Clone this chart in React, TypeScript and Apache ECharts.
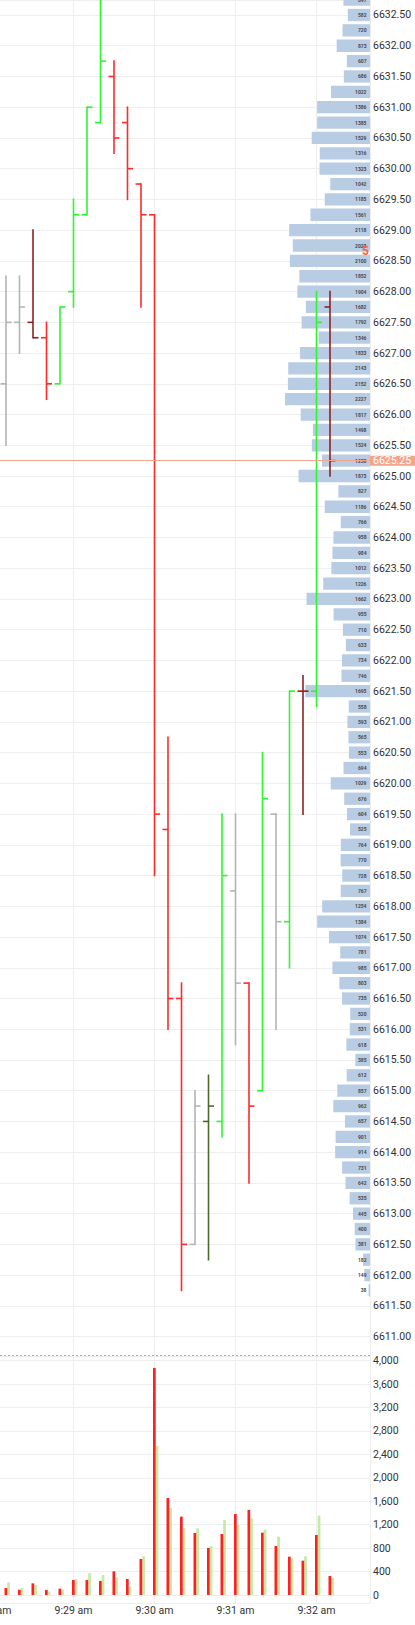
import React, { useEffect, useRef } from "react";
import * as echarts from "echarts";

// ---- OHLC bars (10-second bars, seconds after 9:28:00) ----
const barTimes = [10, 20, 30, 40, 50, 60, 70, 80, 90, 100, 110, 120, 130, 140, 150, 160, 170, 180, 190, 200, 210, 220, 230, 240, 250];
const opens = [6626.5, 6627.5, 6627.5, 6627.25, 6626.5, 6628.0, 6629.25, 6630.75, 6631.5, 6630.75, 6629.75, 6629.25, 6619.25, 6616.5, 6612.5, 6614.5, 6614.5, 6618.25, 6616.75, 6615.0, 6619.5, 6617.75, 6621.5, 6621.5, 6627.75];
const highs = [6628.25, 6628.25, 6629.0, 6627.5, 6627.75, 6629.5, 6631.0, 6633.25, 6631.75, 6631.0, 6629.75, 6629.25, 6620.75, 6616.75, 6615.0, 6615.25, 6619.5, 6619.5, 6616.75, 6620.5, 6619.5, 6621.5, 6621.75, 6628.0, 6628.0];
const lows = [6625.5, 6627.0, 6627.25, 6626.25, 6626.5, 6627.75, 6629.25, 6630.75, 6630.25, 6629.5, 6627.75, 6618.5, 6616.0, 6611.75, 6612.5, 6612.25, 6614.25, 6615.75, 6613.5, 6615.0, 6616.0, 6617.0, 6619.5, 6621.25, 6625.0];
const closes = [6627.5, 6627.75, 6627.25, 6626.5, 6627.75, 6629.25, 6631.0, 6631.75, 6630.5, 6630.0, 6629.25, 6619.5, 6616.5, 6612.5, 6614.75, 6614.75, 6618.5, 6616.75, 6614.75, 6619.75, 6617.75, 6621.5, 6621.5, 6627.5, 6625.25];
const barKinds = ["flat", "flat", "darkdown", "down", "up", "up", "up", "up", "down", "down", "down", "down", "down", "down", "flat", "darkup", "up", "flat", "down", "up", "flat", "up", "darkdown", "up", "darkdown"];

// ---- volume per bar ----
const sellVolume = [119, 91, 199, 85, 108, 256, 256, 239, 404, 273, 614, 3875, 1656, 1337, 1058, 802, 1041, 1383, 1451, 1064, 836, 654, 586, 1024, 324];
const buyVolume = [216, 119, 171, 57, 91, 273, 376, 341, 302, 142, 660, 2543, 1485, 1144, 1138, 836, 1280, 1195, 1309, 1115, 996, 632, 660, 1354, 290];

// ---- volume profile ----
const profilePrices = [
  6632.75, 6632.5, 6632.25, 6632.0, 6631.75, 6631.5, 6631.25, 6631.0, 6630.75, 6630.5, 6630.25, 6630.0,
  6629.75, 6629.5, 6629.25, 6629.0, 6628.75, 6628.5, 6628.25, 6628.0, 6627.75, 6627.5, 6627.25, 6627.0,
  6626.75, 6626.5, 6626.25, 6626.0, 6625.75, 6625.5, 6625.25, 6625.0, 6624.75, 6624.5, 6624.25, 6624.0,
  6623.75, 6623.5, 6623.25, 6623.0, 6622.75, 6622.5, 6622.25, 6622.0, 6621.75, 6621.5, 6621.25, 6621.0,
  6620.75, 6620.5, 6620.25, 6620.0, 6619.75, 6619.5, 6619.25, 6619.0, 6618.75, 6618.5, 6618.25, 6618.0,
  6617.75, 6617.5, 6617.25, 6617.0, 6616.75, 6616.5, 6616.25, 6616.0, 6615.75, 6615.5, 6615.25, 6615.0,
  6614.75, 6614.5, 6614.25, 6614.0, 6613.75, 6613.5, 6613.25, 6613.0, 6612.75, 6612.5, 6612.25, 6612.0,
  6611.75,
];
const profileVolumes = [
  697, 582, 720, 873, 607, 686, 1022, 1386, 1385, 1529, 1316, 1323,
  1042, 1185, 1561, 2118, 2023, 2100, 1852, 1904, 1682, 1792, 1346, 1833,
  2143, 2152, 2227, 1817, 1498, 1524, 1258, 1873, 827, 1186, 766, 958,
  984, 1012, 1226, 1662, 955, 710, 633, 734, 746, 1695, 558, 593,
  565, 553, 694, 1029, 676, 604, 525, 764, 770, 728, 767, 1254,
  1384, 1074, 781, 985, 803, 735, 520, 531, 618, 385, 612, 857,
  962, 657, 901, 914, 731, 642, 535, 445, 400, 381, 182, 149,
  38,
];

const lastPrice = 6625.25;
const countdownText = "5";

const kindColors: Record<string, string> = {
  up: "#2ef52e",
  down: "#ff2a2a",
  flat: "#b3b3b3",
  darkdown: "#8e2222",
  darkup: "#4b6a2c",
};

const FONT = "Roboto";
const GRID_COLOR = "#eeeeee";

function timeLabel(v: number) {
  const m = 28 + Math.round(v / 60);
  return "9:" + String(m).padStart(2, "0") + " am";
}

export default function App() {
  const ref = useRef<HTMLDivElement>(null);

  useEffect(() => {
    if (!ref.current) return;
    const chart = echarts.init(ref.current, null, { renderer: "svg" });

    const option: any = {
      animation: false,
      textStyle: { fontFamily: FONT },
      grid: [
        { left: -7.5, right: 45, top: 0, height: 1356, containLabel: false, outerBoundsMode: "none" },
        { left: -7.5, right: 45, top: 1356, height: 247.3, containLabel: false, outerBoundsMode: "none" },
      ],
      xAxis: [
        {
          gridIndex: 0,
          type: "value",
          min: 0,
          max: 279.63,
          interval: 60,
          axisLine: { show: false },
          axisTick: { show: false },
          axisLabel: { show: false },
          splitLine: { show: true, lineStyle: { color: GRID_COLOR, width: 1 } },
        },
        {
          gridIndex: 0,
          type: "value",
          min: 0,
          max: 9893,
          inverse: true,
          show: false,
          splitLine: { show: false },
        },
        {
          gridIndex: 1,
          type: "value",
          min: 0,
          max: 279.63,
          interval: 60,
          axisLine: { show: false },
          axisTick: { show: false },
          axisLabel: {
            formatter: (v: number) => timeLabel(v),
            color: "#333",
            fontSize: 10.5,
            fontFamily: FONT,
            margin: 2,
            showMinLabel: true,
            showMaxLabel: false,
          },
          splitLine: { show: true, lineStyle: { color: GRID_COLOR, width: 1 } },
        },
      ],
      yAxis: [
        {
          gridIndex: 0,
          type: "value",
          position: "right",
          min: 6610.684,
          max: 6632.744,
          minInterval: 0.5,
          maxInterval: 0.5,
          axisLine: { show: false },
          axisTick: { show: false },
          axisLabel: {
            formatter: (v: number) => v.toFixed(2),
            color: "#333",
            fontSize: 10.5,
            fontFamily: FONT,
            margin: 3,
            showMinLabel: false,
            showMaxLabel: false,
          },
          splitLine: { show: true, lineStyle: { color: GRID_COLOR, width: 1 } },
        },
        {
          gridIndex: 1,
          type: "value",
          position: "right",
          min: -141.6,
          max: 4078.5,
          minInterval: 400,
          maxInterval: 400,
          axisLine: { show: false },
          axisTick: { show: false },
          axisLabel: {
            formatter: (v: number) => Math.round(v).toLocaleString("en-US"),
            color: "#333",
            fontSize: 10.5,
            fontFamily: FONT,
            margin: 3,
            showMinLabel: false,
            showMaxLabel: false,
          },
          splitLine: { show: true, lineStyle: { color: GRID_COLOR, width: 1 } },
        },
      ],
      series: [
        {
          name: "profile",
          type: "custom",
          xAxisIndex: 1,
          yAxisIndex: 0,
          z: 1,
          silent: true,
          encode: { x: 0, y: 1 },
          data: profilePrices.map((p, i) => [profileVolumes[i], p]),
          renderItem: (params: any, api: any) => {
            const v = api.value(0);
            const p = api.value(1);
            const right = api.coord([0, p]);
            const left = api.coord([v, p]);
            const h = api.size([0, 0.25])[1] * 0.8;
            return {
              type: "group",
              children: [
                {
                  type: "rect",
                  shape: { x: left[0], y: right[1] - h / 2, width: right[0] - left[0], height: h },
                  style: { fill: "#b8cce4" },
                },
                {
                  type: "text",
                  x: right[0] - 3.5,
                  y: right[1],
                  style: {
                    text: String(v),
                    fill: "#4a4a4a",
                    fontSize: 5,
                    fontWeight: "bold",
                    fontFamily: FONT,
                    align: "right",
                    verticalAlign: "middle",
                  },
                },
              ],
            };
          },
        },
        {
          name: "ohlc",
          type: "custom",
          xAxisIndex: 0,
          yAxisIndex: 0,
          z: 3,
          silent: true,
          encode: { x: 0, y: [1, 2, 3, 4] },
          data: barTimes.map((t, i) => [t, opens[i], highs[i], lows[i], closes[i]]),
          renderItem: (params: any, api: any) => {
            const t = api.value(0);
            const pO = api.coord([t, api.value(1)]);
            const pH = api.coord([t, api.value(2)]);
            const pL = api.coord([t, api.value(3)]);
            const pC = api.coord([t, api.value(4)]);
            const color = kindColors[barKinds[params.dataIndex]];
            const x = pH[0];
            const st = { stroke: color, lineWidth: 1.6 };
            return {
              type: "group",
              children: [
                { type: "line", shape: { x1: x, y1: pH[1] - 0.8, x2: x, y2: pL[1] + 0.8 }, style: st },
                { type: "line", shape: { x1: x - 5.5, y1: pO[1], x2: x, y2: pO[1] }, style: st },
                { type: "line", shape: { x1: x, y1: pC[1], x2: x + 5.5, y2: pC[1] }, style: st },
              ],
            };
          },
          markLine: {
            silent: true,
            symbol: ["none", "none"],
            lineStyle: { color: "#f4a48c", width: 1, type: "solid" },
            label: {
              show: true,
              position: "end",
              distance: 0,
              formatter: () => lastPrice.toFixed(2),
              color: "#ffffff",
              backgroundColor: "#f4a48c",
              fontSize: 10.5,
              fontFamily: FONT,
              lineHeight: 10,
              padding: [0, 10, 0, 3],
            },
            data: [{ yAxis: lastPrice }],
          },
        },
        {
          name: "volume",
          type: "custom",
          xAxisIndex: 2,
          yAxisIndex: 1,
          z: 3,
          silent: true,
          encode: { x: 0, y: [1, 2] },
          data: barTimes.map((t, i) => [t, sellVolume[i], buyVolume[i]]),
          renderItem: (params: any, api: any) => {
            const t = api.value(0);
            const base = api.coord([t, 0]);
            const r = api.coord([t, api.value(1)]);
            const g = api.coord([t, api.value(2)]);
            const c = base[0];
            return {
              type: "group",
              children: [
                {
                  type: "rect",
                  shape: { x: c + 1.2, y: g[1], width: 2.7, height: base[1] - g[1] },
                  style: { fill: "#c6e9a4" },
                },
                {
                  type: "rect",
                  shape: { x: c - 1.5, y: r[1], width: 2.7, height: base[1] - r[1] },
                  style: { fill: "#ff2020" },
                },
              ],
            };
          },
        },
      ],
      graphic: [
        {
          type: "line",
          shape: { x1: 0, y1: 1355.5, x2: 370, y2: 1355.5 },
          style: { stroke: "#aaaaaa", lineWidth: 1, lineDash: [2, 2] },
          z: 10,
        },
        {
          type: "text",
          x: 369,
          y: 251,
          z: 10,
          style: {
            text: countdownText,
            fill: "#f26b38",
            fontSize: 12,
            fontWeight: "bold",
            fontFamily: FONT,
            align: "right",
            verticalAlign: "middle",
            textAlign: "right",
            textVerticalAlign: "middle",
          },
        },
      ],
    };

    chart.setOption(option);
    return () => chart.dispose();
  }, []);

  return (
    <div
      ref={ref}
      style={{ position: "absolute", left: 0, top: 0, width: 415, height: 1625, background: "#ffffff" }}
    />
  );
}
